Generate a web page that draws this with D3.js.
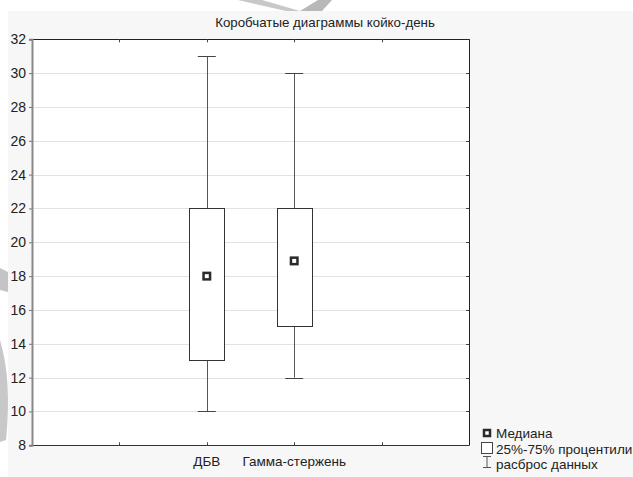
<!DOCTYPE html>
<html>
<head>
<meta charset="utf-8">
<script src="https://cdn.jsdelivr.net/npm/d3@7"></script>
<style>
  html, body { margin: 0; padding: 0; background: #ffffff; }
  svg { display: block; font-family: "Liberation Sans", Arial, sans-serif; }
</style>
</head>
<body>
<svg id="chart" width="633" height="477"></svg>
<script>
// Box-plot summary per group: whisker low, Q1, median, Q3, whisker high
const categories = ["ДБВ", "Гамма-стержень"];
const mins    = [10, 12];
const q1s     = [13, 15];
const medians = [18, 18.9];
const q3s     = [22, 22];
const maxs    = [31, 30];
const yTicks  = [8, 10, 12, 14, 16, 18, 20, 22, 24, 26, 28, 30, 32];
const title   = "Коробчатые диаграммы койко-день";
const legendLabels = ["Медиана", "25%-75% процентили", "расброс данных"];

const svg = d3.select("#chart");
const W = 633, H = 477;
const plot = { left: 32, right: 469, top: 39.3, bottom: 445.3 };

// page panel
svg.append("rect").attr("x", 8).attr("y", 11).attr("width", W - 8).attr("height", H - 11)
  .attr("fill", "#f7f7f7");

// faint decorative strokes along the top and left edge
svg.append("path").attr("d", "M238,0 L262,0 L300,11 L286,11 Z").attr("fill", "#c8c8c8");
svg.append("path").attr("d", "M300,11 L318,0 L332,0 L322,11 Z").attr("fill", "#b8b8b8");
svg.append("path").attr("d", "M0,268 L8,272 L8,292 L0,290 Z").attr("fill", "#c4c4c4");
svg.append("path").attr("d", "M0,340 Q12,380 6,440 L0,442 Z").attr("fill", "#c8c8c8");

const y = d3.scaleLinear().domain([8, 32]).range([plot.bottom, plot.top]);
// category slots: two empty slots on the left, two on the right
const x = d3.scaleLinear().domain([-2, 3]).range([plot.left, plot.right]);
const xTicks = d3.range(-2, 4);

// plot area
svg.append("rect")
  .attr("x", plot.left).attr("y", plot.top)
  .attr("width", plot.right - plot.left).attr("height", plot.bottom - plot.top)
  .attr("fill", "#ffffff");

// horizontal grid
svg.append("g").selectAll("line")
  .data(yTicks.filter(v => v > 8 && v < 32))
  .join("line")
  .attr("x1", plot.left).attr("x2", plot.right)
  .attr("y1", d => Math.round(y(d)) + 0.5).attr("y2", d => Math.round(y(d)) + 0.5)
  .attr("stroke", "#e2e2e2").attr("stroke-width", 1);

// frame: top, right, bottom dark; left axis grey and heavier
svg.append("line").attr("x1", plot.left).attr("x2", plot.right + 0.5)
  .attr("y1", Math.round(plot.top) + 0.5).attr("y2", Math.round(plot.top) + 0.5)
  .attr("stroke", "#222");
svg.append("line").attr("x1", plot.right + 0.5).attr("x2", plot.right + 0.5)
  .attr("y1", plot.top).attr("y2", plot.bottom)
  .attr("stroke", "#222");
svg.append("line").attr("x1", plot.left).attr("x2", plot.right + 0.5)
  .attr("y1", Math.round(plot.bottom) + 0.5).attr("y2", Math.round(plot.bottom) + 0.5)
  .attr("stroke", "#333");

// left axis
const yAxis = d3.axisLeft(y).tickValues(yTicks).tickSize(3).tickPadding(3);
const gy = svg.append("g").attr("transform", `translate(${plot.left},0)`).call(yAxis);
gy.select(".domain").attr("stroke", "#888").attr("stroke-width", 2);
gy.selectAll(".tick line").attr("stroke", "#777");
gy.selectAll(".tick text").attr("font-size", 14).attr("fill", "#222")
  .attr("font-family", "Liberation Sans, Arial, sans-serif");

// right border inward ticks
svg.append("g").selectAll("line").data(yTicks.filter(v => v > 8 && v < 32)).join("line")
  .attr("x1", plot.right - 3).attr("x2", plot.right)
  .attr("y1", d => Math.round(y(d)) + 0.5).attr("y2", d => Math.round(y(d)) + 0.5)
  .attr("stroke", "#444");

// top and bottom inward ticks at category slots
const innerX = xTicks.filter(v => v > -2 && v < 3);
svg.append("g").selectAll("line").data(innerX).join("line")
  .attr("x1", d => Math.round(x(d)) + 0.5).attr("x2", d => Math.round(x(d)) + 0.5)
  .attr("y1", plot.top).attr("y2", plot.top + 3)
  .attr("stroke", "#444");
svg.append("g").selectAll("line").data(innerX).join("line")
  .attr("x1", d => Math.round(x(d)) + 0.5).attr("x2", d => Math.round(x(d)) + 0.5)
  .attr("y1", plot.bottom - 3).attr("y2", plot.bottom)
  .attr("stroke", "#444");

// category labels
svg.append("g").selectAll("text").data(categories).join("text")
  .attr("x", (d, i) => x(i)).attr("y", 466)
  .attr("text-anchor", "middle").attr("font-size", 13.5).attr("fill", "#222")
  .text(d => d);

// title
svg.append("text").attr("x", 325).attr("y", 27).attr("text-anchor", "middle")
  .attr("font-size", 13.3).attr("fill", "#222").text(title);

// boxes
const boxW = 35, capW = 18, markS = 9;
const groups = svg.append("g").selectAll("g").data(categories).join("g");
const snap = v => Math.round(v) + 0.5;

groups.append("line") // whisker
  .attr("x1", (d, i) => snap(x(i))).attr("x2", (d, i) => snap(x(i)))
  .attr("y1", (d, i) => y(mins[i])).attr("y2", (d, i) => y(maxs[i]))
  .attr("stroke", "#555");
groups.append("line") // upper cap
  .attr("x1", (d, i) => x(i) - capW / 2).attr("x2", (d, i) => x(i) + capW / 2)
  .attr("y1", (d, i) => snap(y(maxs[i]))).attr("y2", (d, i) => snap(y(maxs[i])))
  .attr("stroke", "#444");
groups.append("line") // lower cap
  .attr("x1", (d, i) => x(i) - capW / 2).attr("x2", (d, i) => x(i) + capW / 2)
  .attr("y1", (d, i) => snap(y(mins[i]))).attr("y2", (d, i) => snap(y(mins[i])))
  .attr("stroke", "#444");
groups.append("rect") // interquartile box
  .attr("x", (d, i) => snap(x(i) - boxW / 2))
  .attr("y", (d, i) => snap(y(q3s[i])))
  .attr("width", boxW)
  .attr("height", (d, i) => Math.round(y(q1s[i]) - y(q3s[i])))
  .attr("fill", "#ffffff").attr("stroke", "#333");
groups.append("rect") // median marker
  .attr("x", (d, i) => x(i) - markS / 2 + 1.25)
  .attr("y", (d, i) => y(medians[i]) - markS / 2 + 1.25)
  .attr("width", markS - 2.5).attr("height", markS - 2.5)
  .attr("fill", "#ffffff").attr("stroke", "#2a2a2a").attr("stroke-width", 2.5);

// legend
const lg = svg.append("g").attr("font-size", 13.5).attr("fill", "#222");
lg.append("rect").attr("x", 484).attr("y", 430).attr("width", 6).attr("height", 6)
  .attr("fill", "#fff").attr("stroke", "#2a2a2a").attr("stroke-width", 2.5);
lg.append("rect").attr("x", 481.5).attr("y", 442.5).attr("width", 11).attr("height", 11)
  .attr("fill", "#fff").attr("stroke", "#444");
lg.append("path").attr("d", "M483,456.5 H491 M487,456.5 V467.5 M483,467.5 H491")
  .attr("fill", "none").attr("stroke", "#555");
lg.selectAll("text").data(legendLabels).join("text")
  .attr("x", 496).attr("y", (d, i) => 438 + i * 15.5)
  .text(d => d);
</script>
</body>
</html>
